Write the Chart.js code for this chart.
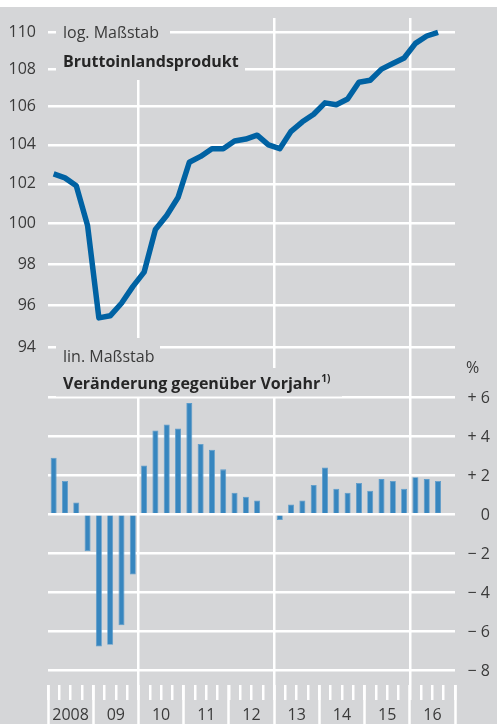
<!DOCTYPE html>
<html>
<head>
<meta charset="utf-8">
<script src="https://cdn.jsdelivr.net/npm/chart.js@4"></script>
<style>
  html, body { margin: 0; padding: 0; background: #fff; }
  #wrap { position: absolute; left: 0; top: 7px; width: 497px; height: 717px; background: #d5d6d8; }
</style>
</head>
<body>
<div id="wrap"><canvas id="chart"></canvas></div>
<script>
/* ---------- data ---------- */
const years = ["2008", "09", "10", "11", "12", "13", "14", "15", "16"];
const quarterLabels = years.flatMap(y => ["Q1", "Q2", "Q3", "Q4"].map(q => y + " " + q));

// Bruttoinlandsprodukt, log. Maßstab (2008 Q1 .. 2016 Q3)
const gdp = [102.5, 102.3, 101.9, 99.9, 95.4, 95.5, 96.1, 96.9,
             97.6, 99.7, 100.4, 101.3, 103.1, 103.4, 103.8, 103.8,
             104.2, 104.3, 104.5, 104.0, 103.8, 104.7, 105.2, 105.6,
             106.2, 106.1, 106.4, 107.3, 107.4, 108.0, 108.3, 108.6,
             109.4, 109.8, 110.0];

// Veränderung gegenüber Vorjahr in %
const change = [2.9, 1.7, 0.6, -1.9, -6.8, -6.7, -5.7, -3.1,
                2.5, 4.3, 4.6, 4.4, 5.7, 3.6, 3.3, 2.3,
                1.1, 0.9, 0.7, 0.0, -0.3, 0.5, 0.7, 1.5,
                2.4, 1.3, 1.1, 1.6, 1.2, 1.8, 1.7, 1.3,
                1.9, 1.8, 1.7];

const logTicks = [94, 96, 98, 100, 102, 104, 106, 108, 110];
const pctTicks = [-8, -6, -4, -2, 0, 2, 4, 6];

// axis ranges (the two panels share one plot area)
const LOG_MIN = 79.44, LOG_MAX = 110.79;
const PCT_MIN = -8.77, PCT_MAX = 25.47;

/* ---------- style ---------- */
const BG = "#d5d6d8";
const GRID = "#ffffff";
const TXT = "#3a3a3a";
const FONT = "'Open Sans', 'Noto Sans', sans-serif";

Chart.defaults.font.family = FONT;
Chart.defaults.font.size = 16;
Chart.defaults.color = TXT;

const yearBoundary = ctx => ctx.index === undefined || ctx.index % 4 === 0;

function pctLabel(v) {
  if (v > 0) return "+ " + v;
  if (v < 0) return "\u2212 " + Math.abs(v);
  return "0";
}

// keep label overhang from pushing the plot area around
function noPad(s) {
  s.paddingTop = 0; s.paddingBottom = 0; s.paddingLeft = 0; s.paddingRight = 0;
}

/* ---------- labels with masking boxes ---------- */
const panelLabels = {
  id: "panelLabels",
  beforeDatasetsDraw(chart) {
    const c = chart.ctx;
    const off = 7; // canvas starts 7px below page top
    const boxes = [
      [56, 18, 170, 50], [56, 50, 245, 80],
      [56, 338, 160, 368], [56, 368, 342, 396.5]
    ];
    c.save();
    c.fillStyle = BG;
    boxes.forEach(b => c.fillRect(b[0], b[1] - off, b[2] - b[0], b[3] - b[1]));

    c.textBaseline = "alphabetic";
    c.textAlign = "left";
    c.fillStyle = TXT;
    c.font = "16px " + FONT;
    c.fillText("log. Maßstab", 63, 37.5 - off);
    c.fillText("lin. Maßstab", 63, 361.5 - off);
    c.fillText("%", 466, 372.5 - off);

    // right-hand % axis labels, right aligned
    const y2 = chart.scales.y2;
    c.textAlign = "right";
    c.textBaseline = "middle";
    pctTicks.forEach(v => c.fillText(pctLabel(v), 490, y2.getPixelForValue(v) + 1));

    c.textAlign = "left";
    c.textBaseline = "alphabetic";
    c.fillStyle = "#262626";
    c.font = "bold 16px " + FONT;
    c.fillText("Bruttoinlandsprodukt", 63, 66.5 - off);
    const t = "Veränderung gegenüber Vorjahr";
    c.fillText(t, 63, 388.5 - off);
    const w = c.measureText(t).width;
    c.font = "bold 10px " + FONT;
    c.fillText("1)", 63 + w + 1, 382 - off);
    c.restore();
  }
};

/* ---------- chart ---------- */
new Chart(document.getElementById("chart"), {
  type: "bar",
  data: {
    labels: quarterLabels,
    datasets: [
      {
        type: "line",
        label: "Bruttoinlandsprodukt",
        data: gdp,
        yAxisID: "y",
        borderColor: "#0062a3",
        borderWidth: 5.5,
        tension: 0,
        pointRadius: 0,
        borderJoinStyle: "round",
        borderCapStyle: "butt"
      },
      {
        label: "Veränderung gegenüber Vorjahr",
        data: change,
        yAxisID: "y2",
        backgroundColor: "#3786bf",
        borderColor: "#5a9bcb",
        borderWidth: 0.8,
        categoryPercentage: 1,
        barPercentage: 0.53
      }
    ]
  },
  options: {
    responsive: true,
    maintainAspectRatio: false,
    animation: false,
    layout: { padding: { top: 11, left: 0, right: 0, bottom: 0 } },
    plugins: { legend: { display: false }, tooltip: { enabled: false } },
    scales: {
      x: {
        type: "category",
        position: "bottom",
        offset: true,
        afterFit: s => { s.height = 39; noPad(s); },
        border: { display: false },
        grid: {
          offset: true,
          color: ctx => (ctx.index === 8 || ctx.index === 20 || ctx.index === 32) ? GRID : "rgba(0,0,0,0)",
          lineWidth: 2.5,
          borderDash: [654, 40],
          drawTicks: true,
          tickLength: 15,
          tickWidth: 2.5,
          tickColor: GRID,
          tickBorderDash: []
        },
        ticks: {
          autoSkip: false,
          maxRotation: 0,
          minRotation: 0,
          padding: 6,
          labelOffset: 5.65,
          callback: (v, i) => i % 4 === 1 ? years[Math.floor(i / 4)] : ""
        }
      },
      xt: {
        type: "category",
        axis: "x",
        position: { y2: PCT_MIN },
        offset: true,
        border: { display: false },
        grid: {
          offset: true,
          drawOnChartArea: false,
          drawTicks: true,
          tickLength: 39,
          tickWidth: 2.5,
          tickColor: ctx => yearBoundary(ctx) ? GRID : "rgba(0,0,0,0)"
        },
        ticks: { display: false }
      },
      y: {
        type: "logarithmic",
        position: "left",
        min: LOG_MIN,
        max: LOG_MAX,
        afterFit: s => { s.width = 48; noPad(s); },
        afterBuildTicks: s => { s.ticks = logTicks.map(v => ({ value: v })); },
        border: { display: false },
        grid: { color: GRID, lineWidth: 2.5, drawTicks: false },
        ticks: { padding: 12, callback: v => String(v) }
      },
      y2: {
        type: "linear",
        position: "right",
        min: PCT_MIN,
        max: PCT_MAX,
        afterFit: s => { s.width = 42; noPad(s); },
        afterBuildTicks: s => { s.ticks = pctTicks.map(v => ({ value: v })); },
        border: { display: false },
        grid: { color: GRID, lineWidth: 2.5, drawTicks: false },
        ticks: { display: false }
      }
    }
  },
  plugins: [panelLabels]
});
</script>
</body>
</html>
